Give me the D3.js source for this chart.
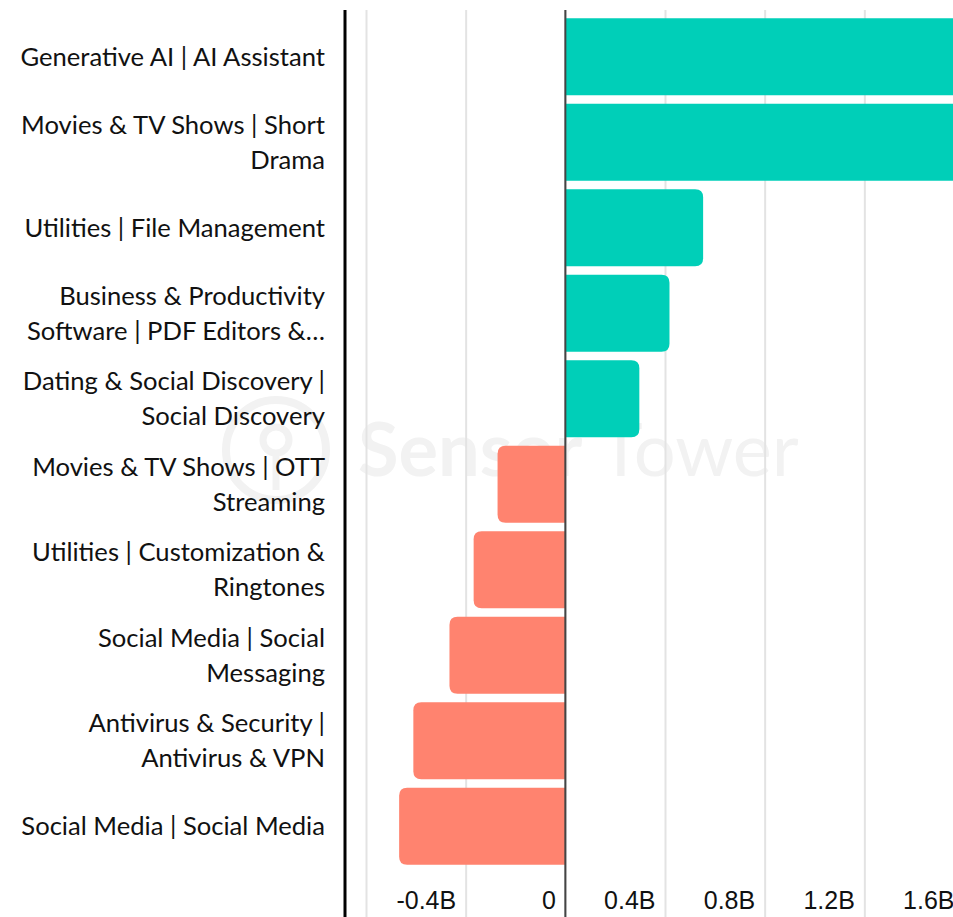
<!DOCTYPE html>
<html>
<head>
<meta charset="utf-8">
<script src="https://cdn.jsdelivr.net/npm/d3@7"></script>
<style>
  body { margin: 0; background: #fff; }
  svg { display: block; font-family: "Source Sans Pro", Lato, "Noto Sans", sans-serif; }
</style>
</head>
<body>
<div id="screen"></div>
<script>
//category names, one array per label line
var categories = [
    ["Generative AI | AI Assistant"],
    ["Movies & TV Shows | Short", "Drama"],
    ["Utilities | File Management"],
    ["Business & Productivity", "Software | PDF Editors &\u2026"],
    ["Dating & Social Discovery |", "Social Discovery"],
    ["Movies & TV Shows | OTT", "Streaming"],
    ["Utilities | Customization &", "Ringtones"],
    ["Social Media | Social", "Messaging"],
    ["Antivirus & Security |", "Antivirus & VPN"],
    ["Social Media | Social Media"]
]

//change in downloads, billions (first two run off the chart)
var values = [2.3, 1.9, 0.553, 0.418, 0.297, -0.272, -0.368, -0.465, -0.61, -0.667]

//x axis ticks
var ticks = [-0.8, -0.4, 0, 0.4, 0.8, 1.2, 1.6]

var WIDTH = 953
var HEIGHT = 917

var svg = d3.select("#screen")
    .append("svg")
    .attr("width", WIDTH)
    .attr("height", HEIGHT)

var x = d3.scaleLinear().domain([-0.8, 1.6]).range([366, 964])
var y = d3.scaleBand()
    .domain(d3.range(categories.length))
    .range([14, 869])
    .paddingInner(0.1)
    .paddingOuter(0.05)

//watermark
var wm = svg.append("g").attr("fill", "#f2f2f2").attr("stroke", "#f2f2f2")
wm.append("circle").attr("cx", 276).attr("cy", 450).attr("r", 50)
    .attr("fill", "none").attr("stroke-width", 8)
wm.append("circle").attr("cx", 276).attr("cy", 440).attr("r", 13)
    .attr("fill", "none").attr("stroke-width", 7)
wm.append("line").attr("x1", 276).attr("x2", 276).attr("y1", 455).attr("y2", 490)
    .attr("stroke-width", 7)
wm.append("text")
    .attr("x", 358).attr("y", 476)
    .attr("stroke", "none")
    .attr("font-size", 74)
    .attr("font-weight", 700)
    .text("Sensor")
    .append("tspan").attr("font-weight", 400).text(" Tower")

//gridlines + tick labels
var axis = d3.axisBottom(x)
    .tickValues(ticks)
    .tickSize(HEIGHT - 10)
    .tickFormat(d => d == 0 ? "0" : d.toFixed(1) + "B")

var gAxis = svg.append("g")
    .attr("transform", "translate(0,10)")
    .call(axis)
gAxis.select(".domain").remove()
gAxis.selectAll(".tick line").attr("stroke", "#e3e3e3").attr("stroke-width", 2)
gAxis.selectAll(".tick text")
    .attr("text-anchor", "end")
    .attr("x", -10)
    .attr("y", HEIGHT - 10 - 17)
    .attr("dy", "0.35em")
    .attr("font-size", 25)
    .attr("fill", "#111")
    .attr("font-family", "inherit")
    .style("opacity", d => d == -0.8 ? 0 : 1)

//bar with rounded far end
function barPath(v, i){
    var x0 = x(0)
    var x1 = x(v)
    var y0 = y(i)
    var h = y.bandwidth()
    var r = Math.min(8, Math.abs(x1 - x0))
    var s = v >= 0 ? 1 : -1
    var p = d3.path()
    p.moveTo(x0, y0)
    p.lineTo(x1 - s * r, y0)
    p.quadraticCurveTo(x1, y0, x1, y0 + r)
    p.lineTo(x1, y0 + h - r)
    p.quadraticCurveTo(x1, y0 + h, x1 - s * r, y0 + h)
    p.lineTo(x0, y0 + h)
    p.closePath()
    return p.toString()
}

svg.append("g")
    .selectAll("path")
    .data(values)
    .enter()
    .append("path")
    .attr("d", (d, i) => barPath(d, i))
    .attr("fill", d => d >= 0 ? "#00cfb8" : "#ff836f")

//zero line
svg.append("line")
    .attr("x1", x(0)).attr("x2", x(0))
    .attr("y1", 10).attr("y2", HEIGHT)
    .attr("stroke", "#444").attr("stroke-width", 2)

//left axis line
svg.append("line")
    .attr("x1", 345).attr("x2", 345)
    .attr("y1", 10).attr("y2", HEIGHT)
    .attr("stroke", "#000").attr("stroke-width", 3)

//category labels
var LINE = 35
var labels = svg.append("g")
    .selectAll("text")
    .data(categories)
    .enter()
    .append("text")
    .attr("text-anchor", "end")
    .attr("font-size", 25.6)
    .attr("fill", "#111")
    .attr("transform", (d, i) => "translate(325," + (y(i) + y.bandwidth() / 2 - (d.length - 1) * LINE / 2) + ")")

labels.selectAll("tspan")
    .data(d => d)
    .enter()
    .append("tspan")
    .attr("x", 0)
    .attr("y", (d, j) => j * LINE)
    .attr("dy", "0.35em")
    .text(d => d)
</script>
</body>
</html>
